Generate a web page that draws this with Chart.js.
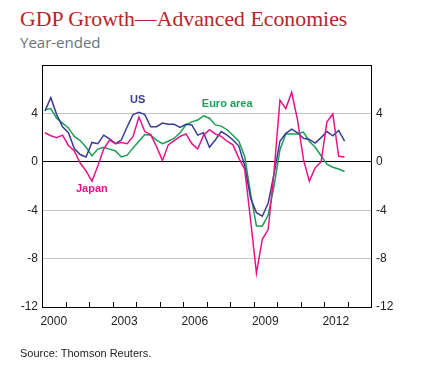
<!DOCTYPE html>
<html>
<head>
<meta charset="utf-8">
<script src="https://cdn.jsdelivr.net/npm/chart.js@4.4.0/dist/chart.umd.min.js"></script>
<style>
  body { margin: 0; width: 428px; height: 371px; background: #fff; position: relative; overflow: hidden; }
  #title { position: absolute; left: 20px; top: 7px; font: 21.8px "Liberation Serif", serif; color: #b8252b; white-space: nowrap; }
  #sub { position: absolute; left: 20px; top: 32px; font: 15px "Open Sans", sans-serif; color: #68727c; white-space: nowrap; }
  #src { position: absolute; left: 20px; top: 347px; font: 11px "Liberation Sans", sans-serif; color: #222; white-space: nowrap; }
  canvas { position: absolute; left: 0; top: 0; }
</style>
</head>
<body>
<div id="title">GDP Growth—Advanced Economies</div>
<div id="sub">Year-ended</div>
<canvas id="gdpchart" width="428" height="371"></canvas>
<div id="src">Source: Thomson Reuters.</div>
<script>
// quarters Q1 2000 .. Q4 2012
const firstYear = 2000;
const lastYear = 2012;
const quarters = [];
for (let y = firstYear; y <= lastYear; y++) {
  for (let q = 1; q <= 4; q++) quarters.push(y + ' Q' + q);
}

// year-ended GDP growth, per cent
const usGrowth = [
  4.2, 5.3, 3.9, 2.9, 2.4, 1.1, 0.6, 0.4,
  1.6, 1.5, 2.2, 1.9, 1.5, 1.8, 2.9, 3.9,
  4.1, 3.9, 2.9, 2.9, 3.2, 3.1, 3.1, 2.85,
  3.1, 3.05, 2.2, 2.4, 1.2, 1.8, 2.5, 2.2,
  1.8, 1.3, -0.3, -3.0, -4.2, -4.5, -3.4, -1.0,
  1.7, 2.35, 2.7, 2.4, 1.95, 1.85, 1.55, 2.0,
  2.5, 2.15, 2.6, 1.7
];
const euroGrowth = [
  4.3, 4.4, 3.6, 3.2, 2.8, 2.1, 1.75, 1.2,
  0.5, 1.05, 1.2, 1.05, 0.9, 0.4, 0.55, 1.15,
  1.7, 2.25, 2.2, 1.8, 1.5, 1.7, 1.95, 2.4,
  3.05, 3.3, 3.45, 3.8, 3.6, 3.05, 2.95, 2.65,
  2.2, 1.7, 0.45, -2.6, -5.3, -5.3, -4.4, -2.0,
  1.0, 2.3, 2.3, 2.3, 2.45, 1.7, 1.2, 0.5,
  -0.2, -0.45, -0.6, -0.8
];
const japanGrowth = [
  2.4, 2.15, 2.0, 2.2, 1.35, 0.9, -0.1, -0.75,
  -1.6, -0.35, 1.05, 1.8, 1.5, 1.6, 1.5, 2.1,
  3.7, 2.5, 2.25, 1.25, 0.1, 1.4, 1.75, 2.1,
  2.3, 1.5, 1.05, 2.2, 2.65, 2.3, 2.1, 1.7,
  1.4, 0.3, -0.6, -4.8, -9.2, -6.4, -5.6, -0.8,
  5.1, 4.4, 5.75, 3.45, 0.2, -1.6, -0.5, 0.0,
  3.3, 3.95, 0.45, 0.4
];

const yTicks = [-12, -8, -4, 0, 4];
const seriesNames = ['US', 'Euro area', 'Japan'];
const seriesColors = ['#3b3b92', '#1a9e55', '#e8138b'];
// where the series names sit: [decimal year, value]
const nameSpots = [[2004.07, 5.1], [2007.88, 4.75], [2002.12, -2.25]];

// quarter label -> mid-quarter decimal year
function quarterX(label) {
  const parts = label.split(' Q');
  return parseInt(parts[0]) + (parseInt(parts[1]) - 0.5) / 4;
}

function toPoints(values) {
  return values.map((v, i) => ({ x: quarterX(quarters[i]), y: v }));
}

const yearTicks = {
  id: 'yearTicks',
  afterDraw(chart) {
    const ctx = chart.ctx;
    const xs = chart.scales.x;
    const bottom = chart.chartArea.bottom;
    ctx.save();
    ctx.strokeStyle = '#000';
    ctx.lineWidth = 1;
    for (let y = firstYear + 1; y <= lastYear + 1; y++) {
      const px = Math.round(xs.getPixelForValue(y)) + 0.5;
      ctx.beginPath();
      ctx.moveTo(px, bottom);
      ctx.lineTo(px, bottom - 5);
      ctx.stroke();
    }
    // series names
    ctx.font = 'bold 11px "Liberation Sans", sans-serif';
    ctx.textAlign = 'center';
    ctx.textBaseline = 'middle';
    seriesNames.forEach((name, i) => {
      ctx.fillStyle = seriesColors[i];
      ctx.fillText(name, xs.getPixelForValue(nameSpots[i][0]), chart.scales.y.getPixelForValue(nameSpots[i][1]));
    });
    ctx.restore();
  }
};

function showTick(v) {
  return yTicks.includes(v) ? String(v) : '';
}

const ctx = document.getElementById('gdpchart').getContext('2d');
const gdpChart = new Chart(ctx, {
  type: 'line',
  data: {
    datasets: [
      { label: 'Japan', data: toPoints(japanGrowth), borderColor: seriesColors[2] },
      { label: 'US', data: toPoints(usGrowth), borderColor: seriesColors[0] },
      { label: 'Euro area', data: toPoints(euroGrowth), borderColor: seriesColors[1] }
    ]
  },
  options: {
    responsive: false,
    animation: false,
    devicePixelRatio: 1,
    layout: { padding: { top: 65, bottom: 44, left: 0, right: 0 } },
    elements: {
      line: { borderWidth: 1.5, tension: 0, fill: false },
      point: { radius: 0 }
    },
    plugins: { legend: { display: false }, tooltip: { enabled: false } },
    scales: {
      x: {
        type: 'linear',
        min: firstYear,
        max: lastYear + 2,
        afterFit: (s) => { s.height = 20; },
        grid: { drawOnChartArea: false, drawTicks: false },
        border: { display: true, color: '#000', width: 1 },
        ticks: {
          stepSize: 0.5,
          autoSkip: false,
          maxRotation: 0,
          padding: 7,
          color: '#222',
          font: { family: '"Liberation Sans", sans-serif', size: 12 },
          callback: (v) => (v % 1 === 0.5 && (Math.floor(v) - firstYear) % 3 === 0) ? String(Math.floor(v)) : ''
        }
      },
      y: {
        min: -12,
        max: 8,
        afterFit: (s) => { s.width = 42; },
        grid: {
          drawTicks: false,
          color: (c) => {
            const v = c.tick.value;
            if (v === 0 || v === 8) return '#000';
            if (v === -12) return 'rgba(0,0,0,0)';
            return '#c4c4c4';
          }
        },
        border: { display: true, color: '#000', width: 1 },
        ticks: {
          stepSize: 4,
          padding: 4,
          color: '#222',
          font: { family: '"Liberation Sans", sans-serif', size: 12 },
          callback: showTick
        }
      },
      y2: {
        position: 'right',
        min: -12,
        max: 8,
        afterFit: (s) => { s.width = 57; },
        grid: { drawOnChartArea: false, drawTicks: false },
        border: { display: true, color: '#000', width: 1 },
        ticks: {
          stepSize: 4,
          padding: 5,
          color: '#222',
          font: { family: '"Liberation Sans", sans-serif', size: 12 },
          callback: showTick
        }
      }
    }
  },
  plugins: [yearTicks]
});
</script>
</body>
</html>
